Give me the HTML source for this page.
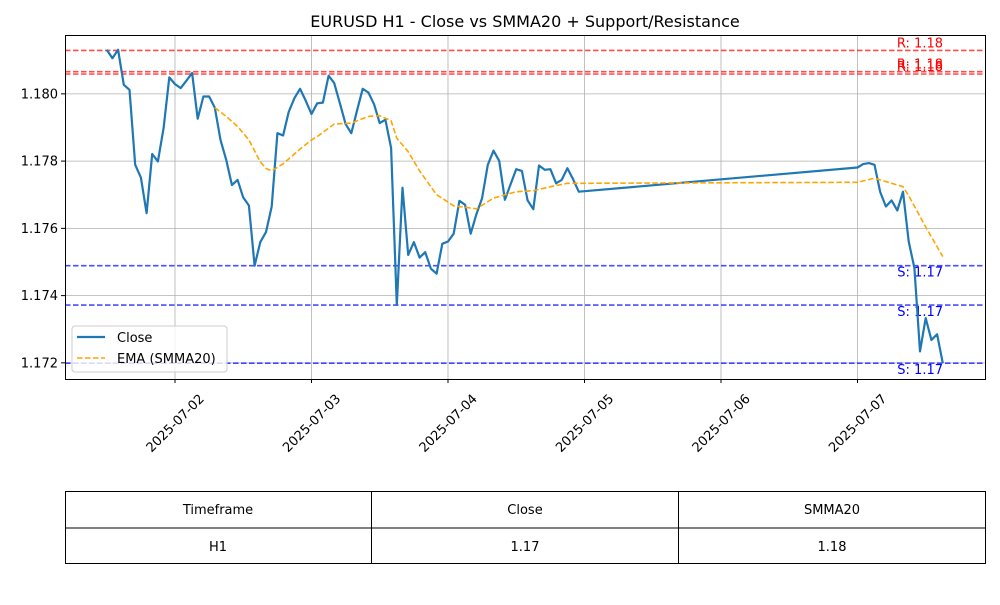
<!DOCTYPE html>
<html><head><meta charset="utf-8"><style>
body{margin:0;background:#fff;font-family:"Liberation Sans","DejaVu Sans",sans-serif;}
svg text{font-family:"DejaVu Sans","Liberation Sans",sans-serif;}
</style></head><body>
<svg id="chart" width="1000" height="600" xmlns="http://www.w3.org/2000/svg">
<rect width="1000" height="600" fill="#fff"/>
<text x="525" y="27" font-size="16" text-anchor="middle">EURUSD H1 - Close vs SMMA20 + Support/Resistance</text>
<g id="grid"></g>
<g id="levels"></g>
<g id="series"></g>
<rect x="65.5" y="35.5" width="920" height="344" fill="none" stroke="#000" stroke-width="1"/>
<g id="axes"></g>
<g>
<rect x="72" y="326" width="155" height="46" rx="3" fill="#fff" fill-opacity="0.8" stroke="#ccc"/>
<line x1="77" y1="337" x2="105" y2="337" stroke="#1f77b4" stroke-width="2.2"/>
<text x="117" y="342" font-size="13">Close</text>
<line x1="77" y1="358" x2="105" y2="358" stroke="orange" stroke-width="1.6" stroke-dasharray="5.5,2.5"/>
<text x="117" y="363" font-size="13">EMA (SMMA20)</text>
</g>
<g font-size="13" text-anchor="middle">
<rect x="65.5" y="491.5" width="920" height="72" fill="none" stroke="#000"/>
<line x1="65" y1="528" x2="985" y2="528" stroke="#000"/>
<line x1="371.5" y1="491" x2="371.5" y2="564" stroke="#000"/>
<line x1="678.5" y1="491" x2="678.5" y2="564" stroke="#000"/>
<text x="218" y="514">Timeframe</text>
<text x="525" y="514">Close</text>
<text x="832" y="514">SMMA20</text>
<text x="218" y="551">H1</text>
<text x="525" y="551">1.17</text>
<text x="832" y="551">1.18</text>
</g>
</svg>
<script>
// hours since 2025-07-01 00:00
const closeHours = [12,13,14,15,16,17,18,19,20,21,22,23,24,25,26,27,28,29,30,31,32,33,34,35,36,37,38,39,40,41,42,43,44,45,46,47,48,49,50,51,52,53,54,55,56,57,58,59,60,61,62,63,64,65,66,67,68,69,70,71,72,73,74,75,76,77,78,79,80,81,82,83,84,85,86,87,88,89,90,91,92,93,94,95,144,145,146,147,148,149,150,151,152,153,154,155,156,157,158,159];
const closeValues = [1.18131,1.18106,1.18131,1.18027,1.18012,1.17789,1.17751,1.17645,1.17821,1.17799,1.17898,1.18049,1.18029,1.18017,1.18039,1.18062,1.17926,1.17992,1.17992,1.17959,1.17863,1.17804,1.17729,1.17744,1.17692,1.17668,1.17489,1.17559,1.17589,1.17665,1.17883,1.17876,1.17946,1.17987,1.18015,1.17979,1.1794,1.17972,1.17974,1.18054,1.18032,1.17972,1.1791,1.17883,1.1795,1.18015,1.18004,1.17969,1.17913,1.17923,1.17839,1.17372,1.17721,1.17521,1.17559,1.17513,1.17529,1.1748,1.17465,1.17554,1.17561,1.17584,1.17682,1.1767,1.17584,1.17642,1.1769,1.17789,1.17831,1.17801,1.17685,1.17731,1.17776,1.17771,1.17683,1.17657,1.17787,1.17774,1.17776,1.17734,1.17744,1.17779,1.17746,1.17709,1.17781,1.17791,1.17794,1.17789,1.17708,1.17665,1.17683,1.17653,1.17709,1.17561,1.17482,1.17234,1.17333,1.17268,1.17285,1.17199];
const emaHours = [31,33,35,37,39,40,41,43,46,48,49,52,55,58,60,62,63,65,67,70,73,77,80,84,87,90,93,95,144,147,152,153,156,159];
const emaValues = [1.17959,1.17933,1.17903,1.17863,1.17798,1.17778,1.17771,1.17792,1.17836,1.17863,1.17873,1.1791,1.17913,1.17933,1.17935,1.1792,1.17868,1.17828,1.17771,1.177,1.17667,1.17658,1.1769,1.17709,1.17712,1.17724,1.17734,1.17734,1.17737,1.17749,1.17724,1.17697,1.17604,1.17516];
const resistanceLevels = [1.18129,1.18066,1.18059];
const supportLevels = [1.17489,1.17372,1.17199];
const yTicks = [1.172,1.174,1.176,1.178,1.180];
const xTickHours = [24,48,72,96,120,144];
const xTickLabels = ["2025-07-02","2025-07-03","2025-07-04","2025-07-05","2025-07-06","2025-07-07"];

const NS="http://www.w3.org/2000/svg";
const X0=65,X1=985,Y0=35,Y1=379;
const hMin=4.66,hMax=166.42,vMin=1.17152,vMax=1.18175;
const xs=h=>X0+(h-hMin)/(hMax-hMin)*(X1-X0);
const ys=v=>Y1-(v-vMin)/(vMax-vMin)*(Y1-Y0);
function mk(tag,attrs,parent){const e=document.createElementNS(NS,tag);for(const k in attrs)e.setAttribute(k,attrs[k]);document.getElementById(parent).appendChild(e);return e;}

yTicks.forEach(t=>{
  const y=ys(t);
  const g=mk('line',{x1:X0,x2:X1,y1:y,y2:y,stroke:'#b0b0b0','stroke-width':0.8},'grid');
  
  
  mk('line',{x1:X0-4,x2:X0,y1:y,y2:y,stroke:'#000'},'axes');
  const tx=mk('text',{x:X0-7,y:y+4.5,'font-size':13,'text-anchor':'end'},'axes');
  tx.textContent=t.toFixed(3);
  
  
});
xTickHours.forEach((h,i)=>{
  const x=xs(h);
  const g=mk('line',{x1:x,x2:x,y1:Y0,y2:Y1,stroke:'#b0b0b0','stroke-width':0.8},'grid');
  
  
  mk('line',{x1:x,x2:x,y1:Y1,y2:Y1+4,stroke:'#000'},'axes');
  const cy=Y1+44;
  const tx=mk('text',{x:x,y:cy+4.5,'font-size':13,'text-anchor':'middle',transform:`rotate(-45 ${x} ${cy})`},'axes');
  tx.textContent=xTickLabels[i];
  
  
});
resistanceLevels.forEach(v=>{
  const y=ys(v);
  const l=mk('line',{x1:X0,x2:X1,y1:y,y2:y,stroke:'red','stroke-opacity':0.7,'stroke-width':1.6,'stroke-dasharray':'5.5,2.5'},'levels');
  
  
  const t=mk('text',{x:943,y:y-3,'font-size':13,'text-anchor':'end',fill:'red'},'levels');
  t.textContent='R: '+v.toFixed(2);
  
  
});
supportLevels.forEach(v=>{
  const y=ys(v);
  const l=mk('line',{x1:X0,x2:X1,y1:y,y2:y,stroke:'blue','stroke-opacity':0.7,'stroke-width':1.6,'stroke-dasharray':'5.5,2.5'},'levels');
  
  
  const t=mk('text',{x:943,y:y+11,'font-size':13,'text-anchor':'end',fill:'blue'},'levels');
  t.textContent='S: '+v.toFixed(2);
  
  
});
const cp=closeHours.map((h,i)=>xs(h).toFixed(1)+','+ys(closeValues[i]).toFixed(1)).join(' ');
const cl=mk('polyline',{points:cp,fill:'none',stroke:'#1f77b4','stroke-width':2.2,'stroke-linejoin':'round'},'series');


const ep=emaHours.map((h,i)=>xs(h).toFixed(1)+','+ys(emaValues[i]).toFixed(1)).join(' ');
const el=mk('polyline',{points:ep,fill:'none',stroke:'orange','stroke-width':1.6,'stroke-dasharray':'5.5,2.5'},'series');


</script>
</body></html>
